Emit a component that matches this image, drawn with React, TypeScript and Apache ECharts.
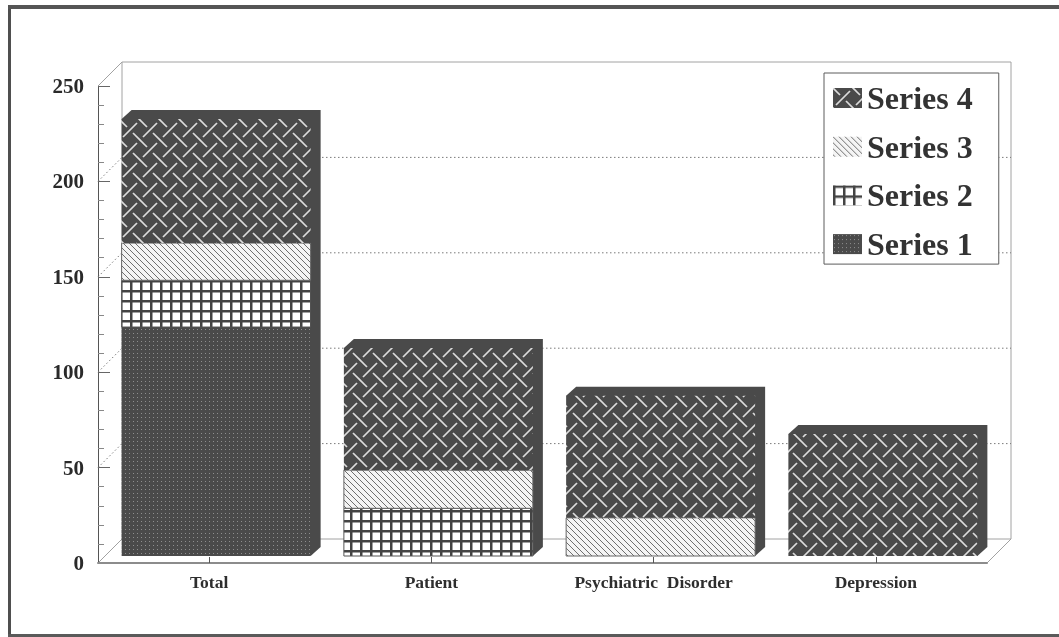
import React, { useEffect, useRef } from "react";
import * as echarts from "echarts";

const categories = ["Total", "Patient", "Psychiatric  Disorder", "Depression"];
const series1 = [120, 0, 0, 0];
const series2 = [24.5, 25, 0, 0];
const series3 = [19.5, 20, 20, 0];
const series4 = [65, 64, 64, 64];
const yTicks = [0, 50, 100, 150, 200, 250];
const legendOrder = ["Series 4", "Series 3", "Series 2", "Series 1"];

const DARK = "#4a4a4a";
const LINE = "#8c8c8c";
const BAR_W = 189;
const SHIFT = 7; // bars stand slightly inside the floor
const DEPTH_X = 10; // bar depth
const DEPTH_Y = 9;
const WALL = 24; // chart depth

function tile(w: number, h: number, draw: (c: CanvasRenderingContext2D) => void) {
  const cv = document.createElement("canvas");
  cv.width = w;
  cv.height = h;
  draw(cv.getContext("2d") as CanvasRenderingContext2D);
  return { image: cv, repeat: "repeat" } as any;
}

function weave() {
  const d = 10;
  const half = 7;
  const T = 2 * d;
  return tile(T, T, (c) => {
    c.fillStyle = DARK;
    c.fillRect(0, 0, T, T);
    c.strokeStyle = "#dcdcdc";
    c.lineWidth = 1.7;
    const seg = (x: number, y: number, dir: number) => {
      for (const ox of [-T, 0, T]) {
        for (const oy of [-T, 0, T]) {
          c.beginPath();
          c.moveTo(x + ox - half, y + oy - half * dir);
          c.lineTo(x + ox + half, y + oy + half * dir);
          c.stroke();
        }
      }
    };
    seg(0, 0, 1);
    seg(d, d, -1);
  });
}
function hatch() {
  return tile(6, 6, (c) => {
    c.fillStyle = "#f4f4f4";
    c.fillRect(0, 0, 6, 6);
    c.strokeStyle = "#6e6e6e";
    c.lineWidth = 1;
    for (const o of [-6, 0, 6]) {
      c.beginPath();
      c.moveTo(o, 0);
      c.lineTo(o + 6, 6);
      c.stroke();
    }
  });
}
function lattice() {
  return tile(10, 10, (c) => {
    c.fillStyle = "#ffffff";
    c.fillRect(0, 0, 10, 10);
    c.fillStyle = "#444444";
    c.fillRect(0, 0, 2.5, 10);
    c.fillRect(0, 0, 10, 2.5);
  });
}
function dots() {
  return tile(4, 4, (c) => {
    c.fillStyle = DARK;
    c.fillRect(0, 0, 4, 4);
    c.fillStyle = "#8e8e8e";
    c.fillRect(1, 1, 1, 1);
  });
}

const stacked = (values: number[], below: number[][]) =>
  values.map((v, i) => {
    const start = below.reduce((s, b) => s + b[i], 0);
    return [i, start, start + v];
  });

export default function App() {
  const ref = useRef<HTMLDivElement>(null);
  useEffect(() => {
    document.body.style.margin = "0";
    const chart = echarts.init(ref.current as HTMLDivElement, undefined, { renderer: "svg" });

    const front = (outline: string | null) => (params: any, api: any) => {
      const lo = api.value(1);
      const hi = api.value(2);
      if (hi <= lo) return null;
      const a = api.coord([api.value(0), lo]);
      const b = api.coord([api.value(0), hi]);
      return {
        type: "rect",
        shape: { x: a[0] + SHIFT - BAR_W / 2, y: b[1] - SHIFT, width: BAR_W, height: a[1] - b[1] },
        style: api.style({ stroke: outline, lineWidth: outline ? 1 : 0 }),
      };
    };

    const makeSeries = (name: string, data: number[][], fill: any, outline: string | null) => ({
      name,
      type: "custom",
      coordinateSystem: "cartesian2d",
      renderItem: front(outline),
      data,
      z: 5,
      encode: { x: 0, y: 2 },
      itemStyle: { color: fill },
    });

    const totals = categories.map((_, i) => [i, series1[i] + series2[i] + series3[i] + series4[i]]);

    chart.setOption({
      animation: false,
      backgroundColor: "#ffffff",
      textStyle: { fontFamily: "Liberation Serif" },
      grid: { left: 98, top: 86, width: 889, height: 477, containLabel: false },
      xAxis: {
        type: "category",
        data: categories,
        axisLine: { lineStyle: { color: LINE, width: 2 } },
        axisTick: { show: true, inside: true, alignWithLabel: true, length: 6, lineStyle: { color: "#555" } },
        axisLabel: { color: "#2e2e2e", fontWeight: "bold", fontSize: 17.5, margin: 10, fontFamily: "Liberation Serif" },
        z: 6,
      },
      yAxis: {
        type: "value",
        min: 0,
        max: 250,
        interval: 50,
        axisLine: { show: true, lineStyle: { color: "#555", width: 1 } },
        axisTick: { show: true, inside: true, length: 12, lineStyle: { color: "#666" } },
        minorTick: { show: true, splitNumber: 5, length: 6, lineStyle: { color: "#888" } },
        axisLabel: { color: "#2a2a2a", fontWeight: "bold", fontSize: 21, margin: 14, fontFamily: "Liberation Serif" },
        splitLine: { show: false },
      },
      legend: {
        data: legendOrder,
        orient: "vertical",
        icon: "rect",
        left: 824,
        top: 73,
        padding: [9, 26, 4, 9],
        itemGap: 16.7,
        itemWidth: 29,
        itemHeight: 20,
        selectedMode: false,
        backgroundColor: "#ffffff",
        borderColor: "#5c5c5c",
        borderWidth: 1,
        z: 9,
        textStyle: { color: "#333", fontWeight: "bold", fontSize: 32, fontFamily: "Liberation Serif" },
      },
      graphic: [
        { type: "rect", shape: { x: 8, y: 6, width: 3, height: 630 }, style: { fill: "#4f4f4f" } },
        { type: "rect", shape: { x: 8, y: 5, width: 1051, height: 4 }, style: { fill: "#555555" } },
        { type: "rect", shape: { x: 8, y: 634, width: 1051, height: 3 }, style: { fill: "#5a5a5a" } },
      ],
      series: [
        {
          name: "wall",
          type: "custom",
          coordinateSystem: "cartesian2d",
          silent: true,
          z: 1,
          data: yTicks.map((v) => [0, v]),
          renderItem: (params: any, api: any) => {
            const sys = params.coordSys;
            const y = api.coord([0, api.value(1)])[1];
            const left = sys.x;
            const right = sys.x + sys.width;
            const v = api.value(1);
            const dotted = { stroke: "#7a7a7a", lineWidth: 1, lineDash: [1.5, 2.5], fill: null };
            const solid = { stroke: "#a2a2a2", lineWidth: 1, fill: null };
            const edge = v === 0 || v === 250;
            const children: any[] = [
              { type: "line", shape: { x1: left, y1: y, x2: left + WALL, y2: y - WALL }, style: edge ? solid : dotted },
              { type: "line", shape: { x1: left + WALL, y1: y - WALL, x2: right + WALL, y2: y - WALL }, style: edge ? solid : dotted },
            ];
            if (v === 0) {
              children.push(
                { type: "line", shape: { x1: right, y1: y, x2: right + WALL, y2: y - WALL }, style: solid },
                { type: "line", shape: { x1: left + WALL, y1: y - WALL, x2: left + WALL, y2: sys.y - WALL }, style: solid },
                { type: "line", shape: { x1: right + WALL, y1: y - WALL, x2: right + WALL, y2: sys.y - WALL }, style: solid }
              );
            }
            return { type: "group", children };
          },
        },
        {
          name: "depth",
          type: "custom",
          coordinateSystem: "cartesian2d",
          silent: true,
          z: 4,
          data: totals,
          itemStyle: { color: DARK },
          renderItem: (params: any, api: any) => {
            const base = api.coord([api.value(0), 0]);
            const top = api.coord([api.value(0), api.value(1)]);
            const x0 = base[0] + SHIFT - BAR_W / 2;
            const x1 = x0 + BAR_W;
            const yb = base[1] - SHIFT;
            const yt = top[1] - SHIFT;
            return {
              type: "polygon",
              shape: {
                points: [
                  [x0, yt],
                  [x0 + DEPTH_X, yt - DEPTH_Y],
                  [x1 + DEPTH_X, yt - DEPTH_Y],
                  [x1 + DEPTH_X, yb - DEPTH_Y],
                  [x1, yb],
                ],
              },
              style: { fill: DARK },
            };
          },
        },
        makeSeries("Series 1", stacked(series1, []), dots(), null),
        makeSeries("Series 2", stacked(series2, [series1]), lattice(), "#555555"),
        makeSeries("Series 3", stacked(series3, [series1, series2]), hatch(), "#666666"),
        makeSeries("Series 4", stacked(series4, [series1, series2, series3]), weave(), null),
      ],
    });
    return () => chart.dispose();
  }, []);
  return <div ref={ref} style={{ width: 1059, height: 637, filter: "blur(0.4px)" }} />;
}
